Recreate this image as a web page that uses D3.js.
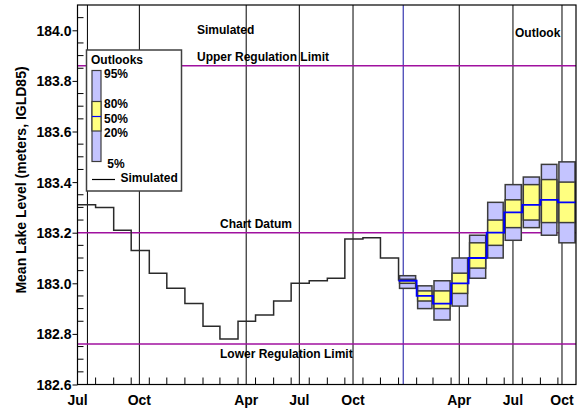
<!DOCTYPE html>
<html>
<head>
<meta charset="utf-8">
<script src="https://cdn.jsdelivr.net/npm/d3@7"></script>
<style>
  body { margin: 0; background: #fff; }
  svg text { font-family: "Liberation Sans", Arial, sans-serif; font-weight: bold; fill: #000; }
</style>
</head>
<body>
<svg id="chart" width="579" height="411"></svg>
<script>
// ---------- DATA ----------
const simStart = "2007-07-01";           // first simulated month
const simulated = [183.31, 183.30, 183.21, 183.13, 183.04, 182.98, 182.92, 182.83, 182.78,
                   182.85, 182.875, 182.93, 183.00, 183.01, 183.02, 183.175, 183.18, 183.10];
const outlookStart = "2009-01-01";       // first outlook month
const p95 = [183.03, 182.99, 183.01, 183.10, 183.19, 183.32, 183.39, 183.42, 183.47, 183.48];
const p80 = [183.016, 182.97, 182.97, 183.04, 183.16, 183.25, 183.33, 183.39, 183.41, 183.40];
const p50 = [183.01, 182.95, 182.92, 183.00, 183.10, 183.20, 183.28, 183.31, 183.33, 183.32];
const p20 = [183.00, 182.93, 182.90, 182.96, 183.06, 183.15, 183.22, 183.25, 183.24, 183.24];
const p5  = [182.98, 182.90, 182.855, 182.91, 183.02, 183.10, 183.17, 183.22, 183.19, 183.16];
const refNames  = ["Upper Regulation Limit", "Chart Datum", "Lower Regulation Limit"];
const refValues = [183.86, 183.20, 182.76];
const monthLabels = ["Jul", "Oct", "Apr", "Jul", "Oct", "Apr", "Jul", "Oct"];
const labelDates  = ["2007-07-01", "2007-10-15", "2008-04-15", "2008-07-15", "2008-10-15", "2009-04-15", "2009-07-16", "2009-10-08"];
const gridDates   = ["2007-07-18", "2007-10-15", "2008-04-15", "2008-07-15", "2008-10-15", "2009-04-15", "2009-07-16", "2009-10-08"];
const forecastDate = "2009-01-09";
const yTicks = [182.6, 182.8, 183.0, 183.2, 183.4, 183.6, 183.8, 184.0];
const legendLabels = ["95%", "80%", "50%", "20%", "5%"];

// ---------- SETUP ----------
const parse = d3.timeParse("%Y-%m-%d");
const svg = d3.select("#chart");
const L = 77.5, R = 576, T = 5, B = 384.5;
const x = d3.scaleTime().domain([parse("2007-07-01"), parse("2009-11-01")]).range([L, R]);
const y = d3.scaleLinear().domain([182.6, 184.1]).range([B, T]);

const simMonths = simulated.map((v, i) => d3.timeMonth.offset(parse(simStart), i));
const outMonths = p50.map((v, i) => d3.timeMonth.offset(parse(outlookStart), i));

// vertical grid lines
svg.append("g").selectAll("line").data(gridDates).join("line")
  .attr("x1", d => x(parse(d))).attr("x2", d => x(parse(d)))
  .attr("y1", T).attr("y2", B).attr("stroke", "#000").attr("stroke-width", 1);

// forecast line
svg.append("line").attr("x1", x(parse(forecastDate))).attr("x2", x(parse(forecastDate)))
  .attr("y1", T).attr("y2", B).attr("stroke", "#1010a0").attr("stroke-width", 1);

// reference lines
svg.append("g").selectAll("line").data(refValues).join("line")
  .attr("x1", L).attr("x2", R).attr("y1", d => y(d)).attr("y2", d => y(d))
  .attr("stroke", "#a0109f").attr("stroke-width", 1.5);

// simulated step line (continues to first outlook median)
const simPts = simulated.map((v, i) => [simMonths[i], v]);
simPts.push([outMonths[0], p50[0]]);
const line = d3.line().x(d => x(d[0])).y(d => y(d[1])).curve(d3.curveStepAfter);
svg.append("path").attr("d", line(simPts)).attr("fill", "none")
  .attr("stroke", "#2a2a2a").attr("stroke-width", 1.5);

// outlook boxes
const boxG = svg.append("g");
outMonths.forEach((m, i) => {
  const x0 = x(m) + 1, x1 = x(d3.timeMonth.offset(m, 1)) - 1;
  boxG.append("rect").attr("x", x0).attr("width", x1 - x0)
    .attr("y", y(p95[i])).attr("height", y(p5[i]) - y(p95[i]))
    .attr("fill", "#c4c4ff").attr("stroke", "#3c3c3c").attr("stroke-width", 1.5);
  boxG.append("rect").attr("x", x0).attr("width", x1 - x0)
    .attr("y", y(p80[i])).attr("height", y(p20[i]) - y(p80[i]))
    .attr("fill", "#ffff80").attr("stroke", "#3c3c3c").attr("stroke-width", 1.5);
});
const medPts = p50.map((v, i) => [outMonths[i], v]);
medPts.push([d3.timeMonth.offset(outMonths[outMonths.length - 1], 1), p50[p50.length - 1]]);
svg.append("path").attr("d", line(medPts)).attr("fill", "none")
  .attr("stroke", "#0000ff").attr("stroke-width", 1.8);

// frame
svg.append("rect").attr("x", L).attr("y", T).attr("width", R - L).attr("height", B - T)
  .attr("fill", "none").attr("stroke", "#000").attr("stroke-width", 1.2);

// y axis: major ticks outside, minor inside
const yAxis = d3.axisLeft(y).tickValues(yTicks).tickFormat(d3.format(".1f")).tickSize(5).tickPadding(1);
const yg = svg.append("g").attr("transform", `translate(${L},0)`).call(yAxis);
yg.select(".domain").remove();
yg.selectAll("text").style("font-size", "14px").attr("dy", "0.36em");
yg.selectAll("line").attr("stroke", "#000");
const minor = d3.range(182.65, 184.1, 0.05).filter(v => !yTicks.some(t => Math.abs(t - v) < 1e-6));
svg.append("g").selectAll("line").data(minor).join("line")
  .attr("x1", L).attr("x2", L + 6).attr("y1", d => y(d)).attr("y2", d => y(d))
  .attr("stroke", "#000").attr("stroke-width", 1);

// x axis: month ticks inside
const monthTicks = d3.timeMonth.range(parse("2007-08-01"), parse("2009-11-01"));
svg.append("g").selectAll("line").data(monthTicks).join("line")
  .attr("x1", d => x(d)).attr("x2", d => x(d)).attr("y1", B).attr("y2", B - 7)
  .attr("stroke", "#000").attr("stroke-width", 1);
svg.append("g").selectAll("text").data(monthLabels).join("text")
  .attr("x", (d, i) => x(parse(labelDates[i]))).attr("y", 405)
  .attr("text-anchor", "middle").style("font-size", "14px").text(d => d);

// y title
svg.append("text").attr("transform", "translate(26,180) rotate(-90)")
  .attr("text-anchor", "middle").style("font-size", "14px")
  .text("Mean Lake Level (meters, IGLD85)");

// annotations
svg.append("text").attr("x", 197).attr("y", 33.5).style("font-size", "12px").text("Simulated");
svg.append("text").attr("x", 515).attr("y", 36.5).style("font-size", "12px").text("Outlook");
svg.append("text").attr("x", 197).attr("y", y(refValues[0]) - 5).style("font-size", "12px").text(refNames[0]);
svg.append("text").attr("x", 220).attr("y", y(refValues[1]) - 5).style("font-size", "12px").text(refNames[1]);
svg.append("text").attr("x", 220).attr("y", y(refValues[2]) + 14).style("font-size", "12px").text(refNames[2]);

// legend
const lg = svg.append("g");
lg.append("rect").attr("x", 86.5).attr("y", 50).attr("width", 95).attr("height", 141)
  .attr("fill", "#fff").attr("stroke", "#404040").attr("stroke-width", 1.5);
lg.append("text").attr("x", 91).attr("y", 64).style("font-size", "12px").text("Outlooks");
lg.append("rect").attr("x", 92).attr("y", 70.5).attr("width", 9).attr("height", 91)
  .attr("fill", "#c4c4ff").attr("stroke", "#3c3c3c").attr("stroke-width", 1.2);
lg.append("rect").attr("x", 92).attr("y", 101.5).attr("width", 9).attr("height", 29.5)
  .attr("fill", "#ffff80").attr("stroke", "#3c3c3c").attr("stroke-width", 1.2);
lg.append("line").attr("x1", 92).attr("x2", 101).attr("y1", 116.5).attr("y2", 116.5)
  .attr("stroke", "#0000ff").attr("stroke-width", 1.2);
const lgY = [77.5, 107.7, 122.7, 137.3, 168.3];
const lgX = [104, 104, 104, 104, 107.3];
lg.selectAll("text.pl").data(legendLabels).join("text").attr("class", "pl")
  .attr("x", (d, i) => lgX[i]).attr("y", (d, i) => lgY[i]).style("font-size", "12px").text(d => d);
lg.append("line").attr("x1", 92).attr("x2", 115).attr("y1", 179.5).attr("y2", 179.5)
  .attr("stroke", "#000").attr("stroke-width", 1.2);
lg.append("text").attr("x", 120.5).attr("y", 181.7).style("font-size", "12px").text("Simulated");
</script>
</body>
</html>
